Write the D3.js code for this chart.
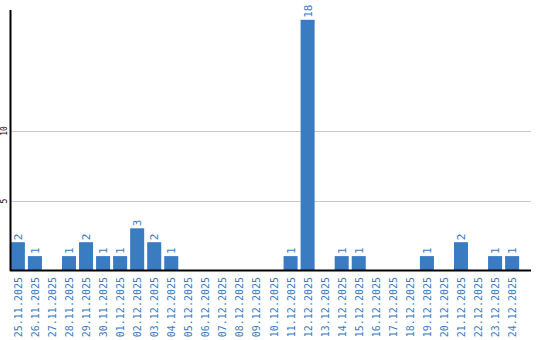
<!DOCTYPE html>
<html lang="en">
<head>
<meta charset="UTF-8">
<title>Daily counts</title>
<script src="https://d3js.org/d3.v7.min.js"></script>
<style>
  body { margin: 0; background: #fff; }
  svg { display: block; }
</style>
</head>
<body>
<div id="chart"></div>
<script>
// Data
const dates = ['25.11.2025','26.11.2025','27.11.2025','28.11.2025','29.11.2025','30.11.2025',
  '01.12.2025','02.12.2025','03.12.2025','04.12.2025','05.12.2025','06.12.2025','07.12.2025',
  '08.12.2025','09.12.2025','10.12.2025','11.12.2025','12.12.2025','13.12.2025','14.12.2025',
  '15.12.2025','16.12.2025','17.12.2025','18.12.2025','19.12.2025','20.12.2025','21.12.2025',
  '22.12.2025','23.12.2025','24.12.2025'];
const counts = [2,1,0,1,2,1,1,3,2,1,0,0,0,0,0,0,1,18,0,1,1,0,0,0,1,0,2,0,1,1];
const yTicks = [5, 10];

const width = 540, height = 340;
const plotLeft = 10, plotRight = 531, base = 270, plotTop = 10;
const blue = '#3a7bc2';

const svg = d3.select('#chart').append('svg')
  .attr('width', width).attr('height', height);

const x = d3.scaleBand().domain(dates).range([plotLeft, plotLeft + 17 * dates.length])
  .paddingInner(3 / 17).paddingOuter(0.05);
const y = d3.scaleLinear().domain([0, 10]).range([base, 131]);

// gridlines
svg.append('g').selectAll('line').data(yTicks).enter().append('line')
  .attr('x1', plotLeft).attr('x2', plotRight)
  .attr('y1', d => Math.round(y(d)) + 0.5).attr('y2', d => Math.round(y(d)) + 0.5)
  .attr('stroke', '#c8c8c8').attr('stroke-width', 1);

// y tick labels
svg.append('g').selectAll('text').data(yTicks).enter().append('text')
  .attr('transform', d => `translate(7,${Math.round(y(d))}) rotate(-90)`)
  .attr('text-anchor', 'middle')
  .attr('font-family', 'DejaVu Sans Mono, monospace').attr('font-size', 8)
  .attr('fill', '#000').text(d => d);

// bars
svg.append('g').selectAll('rect').data(counts).enter().append('rect')
  .attr('x', (d, i) => x(dates[i]))
  .attr('width', x.bandwidth())
  .attr('y', d => y(d))
  .attr('height', d => base - y(d))
  .attr('fill', blue);

// value labels
svg.append('g').selectAll('text').data(counts.map((v, i) => [v, i]).filter(d => d[0] > 0))
  .enter().append('text')
  .attr('transform', d => `translate(${x(dates[d[1]]) + x.bandwidth() / 2 + 4},${y(d[0]) - 2}) rotate(-90)`)
  .attr('text-anchor', 'start')
  .attr('font-family', 'DejaVu Sans Mono, monospace').attr('font-size', 11)
  .attr('fill', blue).text(d => d[0]);

// axes lines
svg.append('line').attr('x1', plotLeft + 0.5).attr('x2', plotLeft + 0.5).attr('y1', plotTop).attr('y2', base + 1)
  .attr('stroke', '#000').attr('stroke-width', 2);
svg.append('line').attr('x1', plotLeft).attr('x2', plotRight).attr('y1', base + 0.5).attr('y2', base + 0.5)
  .attr('stroke', '#000').attr('stroke-width', 2);

// category labels
svg.append('g').selectAll('text').data(dates).enter().append('text')
  .attr('transform', d => `translate(${x(d) + x.bandwidth() / 2 + 4},277) rotate(-90)`)
  .attr('text-anchor', 'end')
  .attr('font-family', 'DejaVu Sans Mono, monospace').attr('font-size', 10)
  .attr('fill', blue).text(d => d);
</script>
</body>
</html>
